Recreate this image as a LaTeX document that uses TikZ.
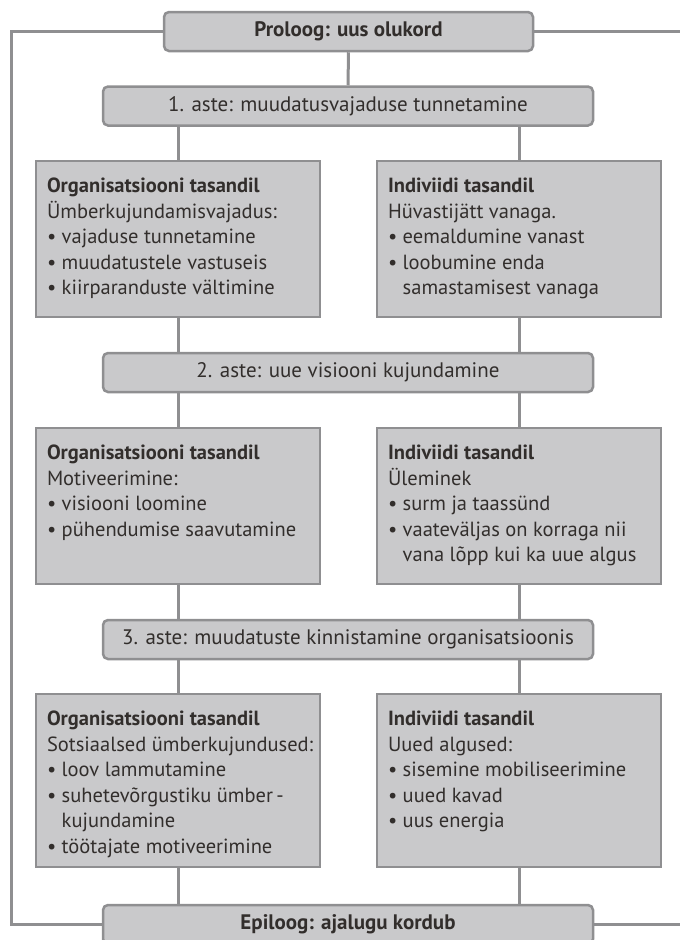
\documentclass[tikz,border=0pt]{standalone}
\usepackage{fontspec}
\setmainfont{PT Sans}
\usetikzlibrary{positioning}
\definecolor{boxgray}{RGB}{201,201,203}
\definecolor{linegray}{RGB}{143,143,145}
\definecolor{inkgray}{RGB}{50,46,44}
\newcommand{\bl}{\textbullet\ }
\newcommand{\bli}{\phantom{\textbullet\ }}
\newcommand{\levtext}[2]{\parbox[t][#1][t]{262pt}{\raggedright\fontsize{20.5}{25.5}\selectfont\strut #2}}
\tikzset{
    stage/.style={
    rectangle,rounded corners=5pt,draw=linegray,fill=boxgray,line width=2.5pt,
    minimum height=39pt,minimum width=490pt,text=inkgray,font=\fontsize{21}{24}\selectfont
    },
    level/.style={
    rectangle,draw=linegray,fill=boxgray,line width=2.5pt,anchor=north west,
    inner xsep=11pt,inner ysep=14pt,outer sep=0pt,text=inkgray
    },
    link/.style={
    draw=linegray,line width=3pt
    },
}
\begin{document}
\begin{tikzpicture}[x=1pt,y=-1pt]
  \useasboundingbox (0,0) rectangle (680,940);
  \coordinate (lft) at (11,0);
  \coordinate (rgt) at (680,0);

  \node[stage,minimum width=369pt] (PRO) at (348.5,31.5) {\bfseries Proloog: uus olukord};
  \node[stage] (ST1) at (348,106) {1. aste: muudatusvajaduse tunnetamine};
  \node[stage] (ST2) at (348,372.5) {2. aste: uue visiooni kujundamine};
  \node[stage] (ST3) at (348,639.5) {3. aste: muudatuste kinnistamine organisatsioonis};
  \node[stage] (EPI) at (348,924.5) {\bfseries Epiloog: ajalugu kordub};

  \node[level] (ORG1) at (36,161) {\levtext{128pt}{\textbf{Organisatsiooni tasandil}\\
    Ümberkujundamisvajadus:\\ \bl vajaduse tunnetamine\\ \bl muudatustele vastuseis\\
    \bl kiirparanduste vältimine}};
  \node[level] (IND1) at (377,161) {\levtext{128pt}{\textbf{Indiviidi tasandil}\\
    Hüvastijätt vanaga.\\ \bl eemaldumine vanast\\ \bl loobumine enda\\
    \bli samastamisest vanaga}};
  \node[level] (ORG2) at (36,428) {\levtext{128pt}{\textbf{Organisatsiooni tasandil}\\
    Motiveerimine:\\ \bl visiooni loomine\\ \bl pühendumise saavutamine}};
  \node[level] (IND2) at (377,428) {\levtext{128pt}{\textbf{Indiviidi tasandil}\\
    Üleminek\\ \bl surm ja taassünd\\ \bl \mbox{vaateväljas on korraga nii}\\
    \bli \mbox{vana lõpp kui ka uue algus}}};
  \node[level] (ORG3) at (36,694) {\levtext{145pt}{\textbf{Organisatsiooni tasandil}\\
    \mbox{Sotsiaalsed ümberkujundused:}\\ \bl loov lammutamine\\ \bl suhetevõrgustiku ümber\,-\\
    \bli kujundamine\\ \bl töötajate motiveerimine}};
  \node[level] (IND3) at (377,694) {\levtext{145pt}{\textbf{Indiviidi tasandil}\\
    Uued algused:\\ \bl sisemine mobiliseerimine\\ \bl uued kavad\\ \bl uus energia}};

  \path[link]
    (PRO) edge (ST1)
    (ORG1.north) edge (ORG1.north |- ST1.south)
    (IND1.north) edge (IND1.north |- ST1.south)
    (ORG1.south) edge (ORG1.south |- ST2.north)
    (IND1.south) edge (IND1.south |- ST2.north)
    (ORG2.north) edge (ORG2.north |- ST2.south)
    (IND2.north) edge (IND2.north |- ST2.south)
    (ORG2.south) edge (ORG2.south |- ST3.north)
    (IND2.south) edge (IND2.south |- ST3.north)
    (ORG3.north) edge (ORG3.north |- ST3.south)
    (IND3.north) edge (IND3.north |- ST3.south)
    (ORG3.south) edge (ORG3.south |- EPI.north)
    (IND3.south) edge (IND3.south |- EPI.north)
    (PRO.east) edge (PRO.east -| rgt)
    (EPI.east) edge (EPI.east -| rgt);
  \draw[link] (PRO.west) -| (lft |- EPI.west) -- (EPI.west);

  \end{tikzpicture}
\end{document}
